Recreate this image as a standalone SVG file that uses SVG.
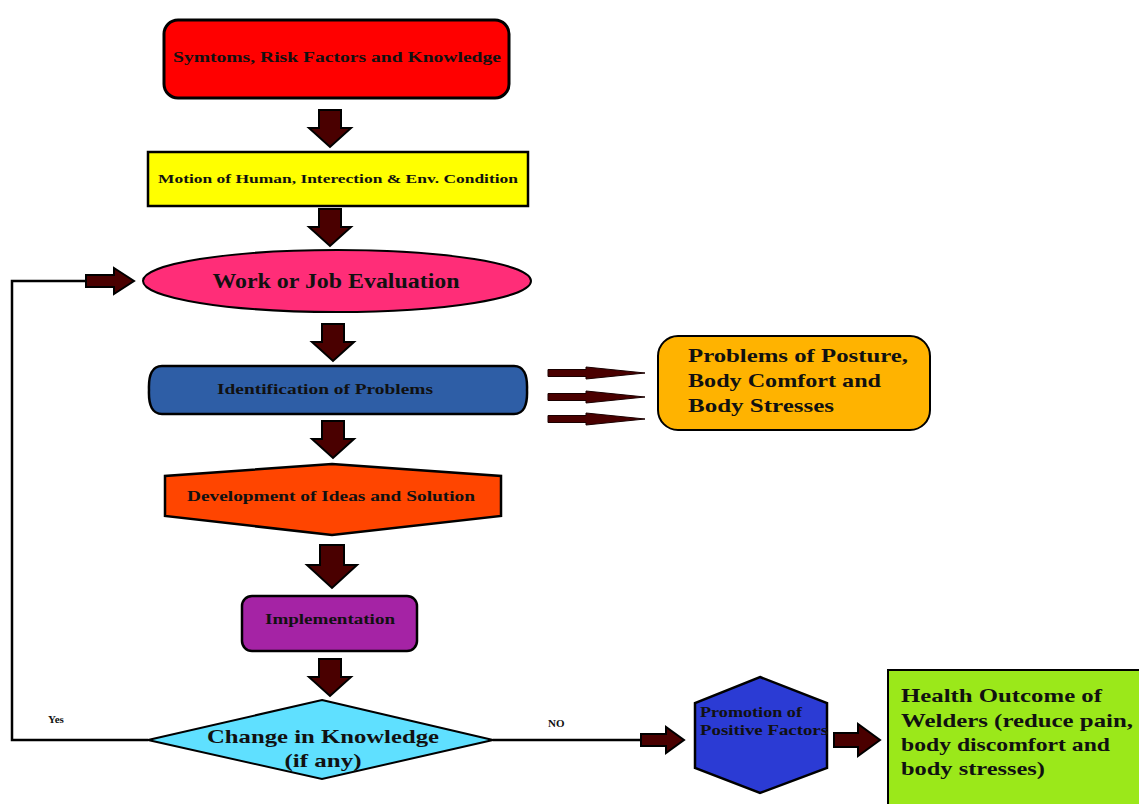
<svg xmlns="http://www.w3.org/2000/svg" width="1139" height="804" viewBox="0 0 1139 804">
<defs>
<style>
.t{font-family:"Liberation Serif","DejaVu Serif",serif;font-weight:bold;fill:#111;}
.c{text-anchor:middle;}
.blk{fill:#4a0000;stroke:#000;stroke-width:2;stroke-linejoin:miter;}
.ln{fill:none;stroke:#000;stroke-width:2.5;}
.thin{fill:#4a0000;stroke:#1a0000;stroke-width:1;}
</style>
<path id="down" d="M -11 0 L 11 0 L 11 18 L 21 18 L 0 37 L -21 18 L -11 18 Z"/>
<path id="right" d="M 0 -6 L 28 -6 L 28 -13 L 48 0 L 28 13 L 28 6 L 0 6 Z"/>
<path id="thinr" d="M 0 -3.5 L 38 -3.5 L 38 -6 L 97 0 L 38 6 L 38 3.5 L 0 3.5 Z"/>
</defs>
<rect width="1139" height="804" fill="#fff"/>

<g id="connectors">
  <use href="#down" class="blk" x="330" y="110"/>
  <use href="#down" class="blk" x="330" y="209"/>
  <use href="#down" class="blk" x="333" y="324"/>
  <use href="#down" class="blk" x="333" y="421"/>
  <path class="blk" d="M 320 545 L 344 545 L 344 565 L 357 565 L 332 588 L 307 565 L 320 565 Z"/>
  <use href="#down" class="blk" x="330" y="659"/>
  <polyline class="ln" points="148,740 12,740 12,281 86,281"/>
  <use href="#right" class="blk" x="86" y="281"/>
  <polyline class="ln" points="493,740 641,740"/>
  <path class="blk" d="M 641 734 L 666 734 L 666 727 L 684 740 L 666 753 L 666 746 L 641 746 Z"/>
  <path class="blk" d="M 834 733 L 858 733 L 858 724 L 880 740 L 858 756 L 858 747 L 834 747 Z"/>
  <use href="#thinr" class="thin" x="548" y="373"/>
  <use href="#thinr" class="thin" x="548" y="397"/>
  <use href="#thinr" class="thin" x="548" y="419"/>
  <text class="t" x="48" y="723" font-size="11">Yes</text>
  <text class="t" x="548" y="727" font-size="11">NO</text>
</g>

<g id="n1">
  <rect x="164" y="20" width="345" height="78" rx="14" fill="#ff0000" stroke="#000" stroke-width="3"/>
  <text class="t c" x="337" y="62" font-size="15" textLength="328" lengthAdjust="spacingAndGlyphs">Symtoms, Risk Factors and Knowledge</text>
</g>
<g id="n2">
  <rect x="148" y="152" width="380" height="54" fill="#ffff00" stroke="#000" stroke-width="2.5"/>
  <text class="t c" x="338" y="183" font-size="13" textLength="360" lengthAdjust="spacingAndGlyphs">Motion of Human, Interection &amp; Env. Condition</text>
</g>
<g id="n3">
  <ellipse cx="337" cy="281" rx="194" ry="31" fill="#ff2d78" stroke="#000" stroke-width="2"/>
  <text class="t c" x="336" y="288" font-size="20" textLength="247" lengthAdjust="spacingAndGlyphs">Work or Job Evaluation</text>
</g>
<g id="n4">
  <path d="M 162 366 L 514 366 Q 528 366 527 390 Q 528 414 514 414 L 162 414 Q 148 414 149 390 Q 148 366 162 366 Z" fill="#2e5ea6" stroke="#000" stroke-width="2.5"/>
  <text class="t c" x="325" y="394" font-size="14" textLength="216" lengthAdjust="spacingAndGlyphs">Identification of Problems</text>
</g>
<g id="n5">
  <rect x="658" y="336" width="272" height="94" rx="20" fill="#ffb300" stroke="#000" stroke-width="2"/>
  <text class="t" x="688" y="362" font-size="19" textLength="220" lengthAdjust="spacingAndGlyphs">Problems of Posture,</text>
  <text class="t" x="688" y="387" font-size="19" textLength="193" lengthAdjust="spacingAndGlyphs">Body Comfort and</text>
  <text class="t" x="688" y="412" font-size="19" textLength="146" lengthAdjust="spacingAndGlyphs">Body Stresses</text>
</g>
<g id="n6">
  <polygon points="332,464 501,476 501,516 332,535 165,516 165,476" fill="#ff4500" stroke="#000" stroke-width="2.5"/>
  <text class="t c" x="331" y="501" font-size="14" textLength="288" lengthAdjust="spacingAndGlyphs">Development of Ideas and Solution</text>
</g>
<g id="n7">
  <rect x="242" y="596" width="175" height="55" rx="10" fill="#a523a5" stroke="#000" stroke-width="2.5"/>
  <text class="t c" x="330" y="624" font-size="14" textLength="130" lengthAdjust="spacingAndGlyphs">Implementation</text>
</g>
<g id="n8">
  <polygon points="322,700 493,740 322,779 148,740" fill="#5fe0ff" stroke="#000" stroke-width="2"/>
  <text class="t c" x="323" y="743" font-size="19" textLength="232" lengthAdjust="spacingAndGlyphs">Change in Knowledge</text>
  <text class="t c" x="323" y="767" font-size="19" textLength="77" lengthAdjust="spacingAndGlyphs">(if any)</text>
</g>
<g id="n9">
  <polygon points="760,677 827,703 827,768 760,793 695,768 695,703" fill="#2b3bd4" stroke="#000" stroke-width="2.5"/>
  <text class="t" x="700" y="717" font-size="14" textLength="102" lengthAdjust="spacingAndGlyphs">Promotion of</text>
  <text class="t" x="700" y="735" font-size="14" textLength="128" lengthAdjust="spacingAndGlyphs">Positive Factors</text>
</g>
<g id="n10">
  <rect x="888" y="670" width="260" height="140" fill="#9be81a" stroke="#000" stroke-width="2"/>
  <text class="t" x="901" y="702" font-size="19" textLength="201" lengthAdjust="spacingAndGlyphs">Health Outcome of</text>
  <text class="t" x="901" y="727" font-size="19" textLength="232" lengthAdjust="spacingAndGlyphs">Welders (reduce pain,</text>
  <text class="t" x="901" y="751" font-size="19" textLength="209" lengthAdjust="spacingAndGlyphs">body discomfort and</text>
  <text class="t" x="901" y="775" font-size="19" textLength="144" lengthAdjust="spacingAndGlyphs">body stresses)</text>
</g>
</svg>
